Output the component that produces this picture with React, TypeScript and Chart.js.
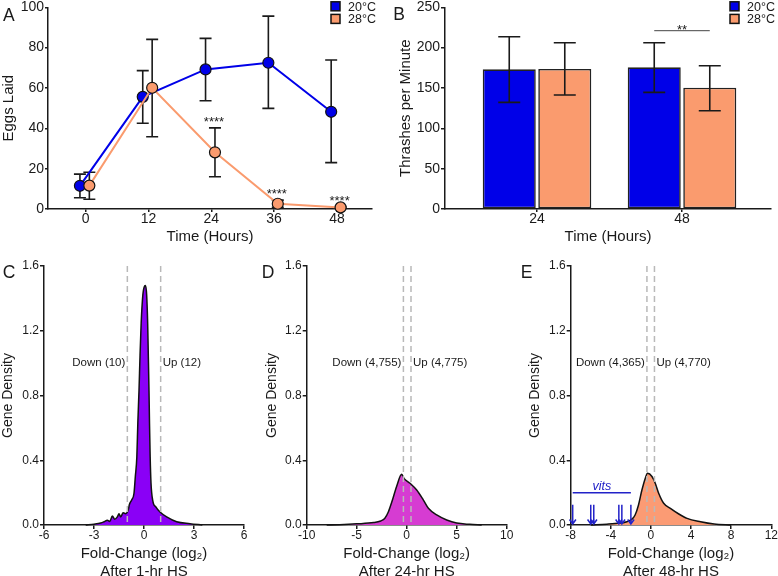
import React, { useEffect, useRef } from 'react';
import { Chart, registerables } from 'chart.js';

Chart.register(...registerables);

const FONT = '"Liberation Sans", Arial, Helvetica, sans-serif';
const INK = '#1a1a1a';

// ---------------- data ----------------
const seriesLabels = ['20°C', '28°C'];
const seriesColors = ['#0000E8', '#FA9B6E'];

// Panel A: eggs laid
const timeHours = [0, 12, 24, 36, 48];
const eggs20Mean = [11.5, 55.6, 69.2, 72.5, 48.2];
const eggs20Low = [5.6, 42.5, 53.7, 49.9, 23.0];
const eggs20High = [17.3, 68.6, 84.6, 95.6, 73.9];
const eggs28Mean = [11.6, 60.1, 28.1, 2.6, 0.8];
const eggs28Low = [4.8, 35.8, 16.0, 0.9, 0.4];
const eggs28High = [18.2, 84.1, 40.2, 4.4, 1.2];
const eggsSignif = ['', '', '****', '****', '****'];
const eggsTicks = [0, 12, 24, 36, 48];
const eggsYTicks = [0, 20, 40, 60, 80, 100];

// Panel B: thrashes
const thrashHours = [24, 48];
const thrash20Mean = [173.1, 175.6];
const thrash20Low = [132.2, 144.6];
const thrash20High = [213.5, 206.0];
const thrash28Mean = [173.5, 150.3];
const thrash28Low = [141.3, 121.8];
const thrash28High = [206.0, 177.6];
const thrashYTicks = [0, 50, 100, 150, 200, 250];
const thrashSignifValue = 221;
const thrashSignifLabel = '**';
const thrashSignifIndex = 1;

// Panels C-E: density of fold changes
const densityTicks = [0, 0.4, 0.8, 1.2, 1.6];

const fc1hX = [-3.5, -3.0, -2.6, -2.4, -2.2, -2.05, -1.9, -1.75, -1.6, -1.5, -1.4, -1.25, -1.1, -0.94, -0.88, -0.74, -0.6, -0.52, -0.43, -0.37, -0.3, -0.24, -0.17, -0.07, 0.03, 0.09, 0.16, 0.22, 0.26, 0.3, 0.33, 0.37, 0.42, 0.52, 0.72, 0.96, 1.36, 1.96, 2.76, 3.5];
const fc1hY = [0, 0.005, 0.012, 0.02, 0.03, 0.022, 0.055, 0.035, 0.05, 0.07, 0.05, 0.075, 0.07, 0.095, 0.125, 0.155, 0.196, 0.3, 0.42, 0.63, 0.83, 1.04, 1.246, 1.42, 1.475, 1.48, 1.42, 1.246, 1.04, 0.83, 0.63, 0.42, 0.26, 0.154, 0.11, 0.08, 0.05, 0.02, 0.008, 0];
const thr1h = [-1, 1];
const counts1h = ['Down (10)', 'Up (12)'];
const ticks1h = [-6, -3, 0, 3, 6];

const fc24hX = [-8, -6.7, -5, -3.3, -2.6, -2.2, -1.84, -1.5, -1.0, -0.5, -0.27, 0.33, 1.0, 1.67, 2.17, 3.0, 4.0, 5.0, 6.3, 7.5];
const fc24hY = [0, 0.002, 0.007, 0.015, 0.025, 0.04, 0.08, 0.14, 0.24, 0.313, 0.288, 0.258, 0.216, 0.154, 0.103, 0.062, 0.031, 0.012, 0.004, 0];
const thr24h = [-0.33, 0.43];
const counts24h = ['Down (4,755)', 'Up (4,775)'];
const ticks24h = [-10, -5, 0, 5, 10];

const fc48hX = [-6, -4.4, -3.1, -2.4, -1.9, -1.58, -1.24, -0.9, -0.57, -0.34, 0.1, 0.43, 0.77, 1.27, 1.94, 2.78, 3.6, 4.95, 6.3, 8];
const fc48hY = [0, 0.005, 0.012, 0.02, 0.036, 0.062, 0.124, 0.216, 0.288, 0.319, 0.3, 0.258, 0.196, 0.134, 0.103, 0.068, 0.041, 0.02, 0.006, 0];
const thr48h = [-0.4, 0.35];
const counts48h = ['Down (4,365)', 'Up (4,770)'];
const ticks48h = [-8, -4, 0, 4, 8, 12];

const countsLevel = 1.0;
const vitsFC = [-7.8, -6.0, -5.7, -3.2, -2.9, -2.0];
const vitsLevel = 0.2;
const vitsArrowTop = 0.125;
const vitsLabel = 'vits';

// ---------------- layout ----------------
type Rect = { left: number; top: number; width: number; height: number };
type Area = { left: number; top: number; right: number; bottom: number };

function pads(c: Rect, a: Area) {
  return {
    top: a.top - c.top,
    right: c.left + c.width - a.right,
    yWidth: a.left - c.left,
    xHeight: c.top + c.height - a.bottom,
  };
}

function makeY(o: any) {
  const s: any = {
    type: 'linear',
    min: o.min,
    max: o.max,
    afterBuildTicks: (sc: any) => {
      sc.ticks = o.ticks.map((v: number) => ({ value: v }));
    },
    afterFit: (sc: any) => {
      sc.width = o.width;
      sc.paddingTop = 0;
      sc.paddingBottom = 0;
      sc.paddingLeft = 0;
      sc.paddingRight = 0;
    },
    border: { display: true, color: INK, width: 1.5 },
    grid: { display: true, drawOnChartArea: false, drawTicks: true, tickLength: o.tickLength ?? 4, color: INK, lineWidth: 1.5 },
    ticks: { color: INK, autoSkip: false, font: { size: o.tickSize, family: FONT, lineHeight: 1 }, padding: 1 },
    title: { display: true, text: o.title, color: INK, font: { size: o.titleSize, family: FONT, lineHeight: 1.2 }, padding: { top: o.titlePad, bottom: 0 } },
  };
  if (o.fmt) s.ticks.callback = o.fmt;
  return s;
}

function makeX(o: any) {
  return {
    type: 'linear',
    min: o.min,
    max: o.max,
    offset: false,
    afterBuildTicks: (sc: any) => {
      sc.ticks = o.ticks.map((v: number) => ({ value: v }));
    },
    afterFit: (sc: any) => {
      sc.height = o.height;
      sc.paddingTop = 0;
      sc.paddingBottom = 0;
      sc.paddingLeft = 0;
      sc.paddingRight = 0;
    },
    border: { display: true, color: INK, width: 1.5 },
    grid: { display: true, offset: false, drawOnChartArea: false, drawTicks: true, tickLength: o.tickLength ?? 4, color: INK, lineWidth: 1.5 },
    ticks: { color: INK, autoSkip: false, maxRotation: 0, font: { size: o.tickSize, family: FONT, lineHeight: 1 }, padding: o.tickPad ?? 1 },
    title: { display: true, text: o.title, color: INK, font: { size: o.titleSize, family: FONT, lineHeight: 1.2 }, padding: { top: 0, bottom: o.titlePad } },
  };
}

function letterPlugin(letter: string, x: number, y: number) {
  return {
    id: 'panelLetter' + letter,
    afterDraw(chart: any) {
      const ctx = chart.ctx;
      ctx.save();
      ctx.fillStyle = INK;
      ctx.font = `17.5px ${FONT}`;
      ctx.textAlign = 'left';
      ctx.textBaseline = 'alphabetic';
      ctx.fillText(letter, x, y);
      ctx.restore();
    },
  };
}

function legendPlugin(x0: number) {
  return {
    id: 'boxLegend',
    afterDraw(chart: any) {
      const ctx = chart.ctx;
      ctx.save();
      seriesLabels.forEach((lab, i) => {
        const top = 1.8 + i * 12.6;
        ctx.fillStyle = seriesColors[i];
        ctx.fillRect(x0, top, 9, 9);
        ctx.strokeStyle = '#111';
        ctx.lineWidth = 1.5;
        ctx.strokeRect(x0, top, 9, 9);
        ctx.fillStyle = INK;
        ctx.font = `12.5px ${FONT}`;
        ctx.textAlign = 'left';
        ctx.textBaseline = 'alphabetic';
        ctx.fillText(lab, x0 + 17, top + 9);
      });
      ctx.restore();
    },
  };
}

function errorBarPlugin(lows: number[][], highs: number[][], capHalf: number, when: 'before' | 'after') {
  const draw = (chart: any) => {
    const ctx = chart.ctx;
    const ys = chart.scales.y;
    ctx.save();
    ctx.strokeStyle = INK;
    ctx.lineWidth = 1.6;
    lows.forEach((lowArr, di) => {
      const meta = chart.getDatasetMeta(di);
      lowArr.forEach((lo, j) => {
        const el = meta.data[j];
        if (!el) return;
        const x = el.x;
        const y1 = ys.getPixelForValue(lo);
        const y2 = ys.getPixelForValue(highs[di][j]);
        ctx.beginPath();
        ctx.moveTo(x, y1);
        ctx.lineTo(x, y2);
        ctx.moveTo(x - capHalf, y1);
        ctx.lineTo(x + capHalf, y1);
        ctx.moveTo(x - capHalf, y2);
        ctx.lineTo(x + capHalf, y2);
        ctx.stroke();
      });
    });
    ctx.restore();
  };
  return when === 'before'
    ? { id: 'errBefore', beforeDatasetsDraw: draw }
    : { id: 'errAfter', afterDatasetsDraw: draw };
}

// ---------------- panel configs ----------------
const DODGE = [-1.1, 0.7];

function configA(c: Rect, a: Area) {
  const p = pads(c, a);
  const means = [eggs20Mean, eggs28Mean];
  return {
    type: 'line',
    data: {
      datasets: means.map((m, di) => ({
        label: seriesLabels[di],
        data: timeHours.map((t, i) => ({ x: t + DODGE[di], y: m[i] })),
        borderColor: seriesColors[di],
        backgroundColor: seriesColors[di],
        pointBackgroundColor: seriesColors[di],
        pointBorderColor: '#111',
        pointBorderWidth: 1.2,
        pointRadius: 5.5,
        borderWidth: 2,
        tension: 0,
        clip: false,
        order: di === 0 ? 1 : 0,
      })),
    },
    options: {
      responsive: false,
      animation: false,
      events: [],
      layout: { padding: { top: p.top, right: p.right, left: 0, bottom: 0 } },
      plugins: { legend: { display: false }, tooltip: { enabled: false } },
      scales: {
        x: makeX({ min: -7.2, max: 54.7, ticks: eggsTicks, height: p.xHeight, tickSize: 14, titleSize: 15, title: 'Time (Hours)', titlePad: 14.5, tickLength: 3, tickPad: 0 }),
        y: makeY({ min: 0, max: 100, ticks: eggsYTicks, width: p.yWidth, tickSize: 14, titleSize: 15, title: 'Eggs Laid', titlePad: 0, tickLength: 3 }),
      },
    },
    plugins: [
      errorBarPlugin([eggs20Low, eggs28Low], [eggs20High, eggs28High], 6, 'before'),
      {
        id: 'stars',
        afterDatasetsDraw(chart: any) {
          const ctx = chart.ctx;
          const meta = chart.getDatasetMeta(1);
          ctx.save();
          ctx.fillStyle = INK;
          ctx.font = `13px ${FONT}`;
          ctx.textAlign = 'center';
          ctx.textBaseline = 'alphabetic';
          eggsSignif.forEach((s, j) => {
            if (!s) return;
            const x = meta.data[j].x;
            const y = chart.scales.y.getPixelForValue(eggs28High[j]);
            ctx.fillText(s, x - 1, y - 2);
          });
          ctx.restore();
        },
      },
      legendPlugin(331),
      letterPlugin('A', 3, 20.7),
    ],
  };
}

function configB(c: Rect, a: Area) {
  const p = pads(c, a);
  const means = [thrash20Mean, thrash28Mean];
  return {
    type: 'bar',
    data: {
      datasets: means.map((m, di) => ({
        label: seriesLabels[di],
        data: thrashHours.map((t, i) => ({ x: t, y: m[i] })),
        backgroundColor: seriesColors[di],
        borderColor: '#222',
        borderWidth: 1.6,
        borderSkipped: false,
        categoryPercentage: 0.766,
        barPercentage: 0.955,
      })),
    },
    options: {
      responsive: false,
      animation: false,
      events: [],
      layout: { padding: { top: p.top, right: p.right, left: 0, bottom: 0 } },
      plugins: { legend: { display: false }, tooltip: { enabled: false } },
      scales: {
        x: makeX({ min: 8.77, max: 62.73, ticks: thrashHours, height: p.xHeight, tickSize: 14, titleSize: 15, title: 'Time (Hours)', titlePad: 14.5, tickLength: 3, tickPad: 0 }),
        y: makeY({ min: 0, max: 250, ticks: thrashYTicks, width: p.yWidth, tickSize: 14, titleSize: 15, title: 'Thrashes per Minute', titlePad: 6.5, tickLength: 4 }),
      },
    },
    plugins: [
      errorBarPlugin([thrash20Low, thrash28Low], [thrash20High, thrash28High], 11, 'after'),
      {
        id: 'sig',
        afterDatasetsDraw(chart: any) {
          const ctx = chart.ctx;
          const x1 = chart.getDatasetMeta(0).data[thrashSignifIndex].x;
          const x2 = chart.getDatasetMeta(1).data[thrashSignifIndex].x;
          const y = chart.scales.y.getPixelForValue(thrashSignifValue);
          ctx.save();
          ctx.strokeStyle = '#444';
          ctx.lineWidth = 1;
          ctx.beginPath();
          ctx.moveTo(x1, y);
          ctx.lineTo(x2, y);
          ctx.stroke();
          ctx.fillStyle = INK;
          ctx.font = `13px ${FONT}`;
          ctx.textAlign = 'center';
          ctx.textBaseline = 'alphabetic';
          ctx.fillText(thrashSignifLabel, (x1 + x2) / 2, y + 3);
          ctx.restore();
        },
      },
      legendPlugin(340),
      letterPlugin('B', 3.3, 20),
    ],
  };
}

function configDensity(o: any) {
  const p = pads(o.c, o.a);
  const plugins: any[] = [
    {
      id: 'thresholds',
      afterDatasetsDraw(chart: any) {
        const ctx = chart.ctx;
        const xs = chart.scales.x;
        const ys = chart.scales.y;
        const area = chart.chartArea;
        ctx.save();
        ctx.strokeStyle = '#b9b9b9';
        ctx.lineWidth = 1.5;
        ctx.setLineDash([6, 4]);
        o.thr.forEach((t: number) => {
          const x = xs.getPixelForValue(t);
          ctx.beginPath();
          ctx.moveTo(x, area.top);
          ctx.lineTo(x, area.bottom);
          ctx.stroke();
        });
        ctx.setLineDash([]);
        ctx.fillStyle = INK;
        ctx.font = `11.5px ${FONT}`;
        ctx.textBaseline = 'middle';
        const yy = ys.getPixelForValue(countsLevel);
        ctx.textAlign = 'right';
        ctx.fillText(o.counts[0], xs.getPixelForValue(o.thr[0]) - 2, yy);
        ctx.textAlign = 'left';
        ctx.fillText(o.counts[1], xs.getPixelForValue(o.thr[1]) + 2, yy);
        ctx.restore();
      },
    },
    letterPlugin(o.letter, o.letterX, 18),
  ];
  if (o.vits) {
    plugins.push({
      id: 'vits',
      afterDatasetsDraw(chart: any) {
        const ctx = chart.ctx;
        const xs = chart.scales.x;
        const ys = chart.scales.y;
        const lo = Math.min(...vitsFC);
        const hi = Math.max(...vitsFC);
        const yl = ys.getPixelForValue(vitsLevel);
        ctx.save();
        ctx.strokeStyle = '#2222C8';
        ctx.fillStyle = '#2222C8';
        ctx.lineWidth = 1.5;
        ctx.beginPath();
        ctx.moveTo(xs.getPixelForValue(lo), yl);
        ctx.lineTo(xs.getPixelForValue(hi), yl);
        ctx.stroke();
        ctx.font = `italic 12.5px ${FONT}`;
        ctx.textAlign = 'center';
        ctx.textBaseline = 'alphabetic';
        ctx.fillText(vitsLabel, xs.getPixelForValue((lo + hi) / 2), yl - 2.5);
        const top = ys.getPixelForValue(vitsArrowTop);
        const tip = ys.getPixelForValue(0) - 1;
        vitsFC.forEach((v) => {
          const x = xs.getPixelForValue(v);
          ctx.beginPath();
          ctx.moveTo(x, top);
          ctx.lineTo(x, tip);
          ctx.moveTo(x - 3.2, tip - 4.5);
          ctx.lineTo(x, tip);
          ctx.lineTo(x + 3.2, tip - 4.5);
          ctx.stroke();
        });
        ctx.restore();
      },
    });
  }
  return {
    type: 'line',
    data: {
      datasets: [
        {
          label: o.sub,
          data: o.xs.map((x: number, i: number) => ({ x, y: o.ys[i] })),
          fill: 'origin',
          backgroundColor: o.color,
          borderColor: '#111',
          borderWidth: 1.5,
          pointRadius: 0,
          cubicInterpolationMode: 'monotone',
          clip: false,
        },
      ],
    },
    options: {
      responsive: false,
      animation: false,
      events: [],
      layout: { padding: { top: p.top, right: p.right, left: 0, bottom: 0 } },
      plugins: { legend: { display: false }, tooltip: { enabled: false } },
      scales: {
        x: makeX({ min: o.xmin, max: o.xmax, ticks: o.ticks, height: p.xHeight, tickSize: 12, titleSize: 15, title: ['Fold-Change (log\u2082)', o.sub], titlePad: -4.8, tickLength: 4, tickPad: 1 }),
        y: makeY({ min: 0, max: 1.6, ticks: densityTicks, width: p.yWidth, tickSize: 12, titleSize: 14, title: 'Gene Density', titlePad: o.yTitlePad, tickLength: 4, fmt: (v: any) => Number(v).toFixed(1) }),
      },
    },
    plugins,
  };
}

// ---------------- components ----------------
function Panel({ rect, make }: { rect: Rect; make: () => any }) {
  const ref = useRef<HTMLCanvasElement | null>(null);
  useEffect(() => {
    if (!ref.current) return;
    const chart = new Chart(ref.current, make());
    return () => chart.destroy();
  }, []);
  return (
    <canvas
      ref={ref}
      width={rect.width}
      height={rect.height}
      style={{ position: 'absolute', left: rect.left, top: rect.top, width: rect.width, height: rect.height }}
    />
  );
}

const rectA: Rect = { left: 0, top: 0, width: 390, height: 260 };
const areaA: Area = { left: 48, top: 7.3, right: 372, bottom: 209 };
const rectB: Rect = { left: 390, top: 0, width: 388, height: 260 };
const areaB: Area = { left: 445, top: 7.3, right: 771, bottom: 209 };
const rectC: Rect = { left: 0, top: 260, width: 260, height: 316 };
const areaC: Area = { left: 44, top: 266, right: 244, bottom: 525 };
const rectD: Rect = { left: 260, top: 260, width: 258, height: 316 };
const areaD: Area = { left: 306.7, top: 266, right: 506.7, bottom: 525 };
const rectE: Rect = { left: 518, top: 260, width: 260, height: 316 };
const areaE: Area = { left: 570.7, top: 266, right: 771.3, bottom: 525 };

export default function App() {
  return (
    <div style={{ position: 'absolute', left: 0, top: 0, width: 778, height: 576, overflow: 'hidden', background: '#fff' }}>
      <Panel rect={rectA} make={() => configA(rectA, areaA)} />
      <Panel rect={rectB} make={() => configB(rectB, areaB)} />
      <Panel
        rect={rectC}
        make={() =>
          configDensity({ c: rectC, a: areaC, xs: fc1hX, ys: fc1hY, thr: thr1h, counts: counts1h, ticks: ticks1h, xmin: -6, xmax: 6, color: '#8A00F6', sub: 'After 1-hr HS', letter: 'C', letterX: 2.7, yTitlePad: 0 })
        }
      />
      <Panel
        rect={rectD}
        make={() =>
          configDensity({ c: rectD, a: areaD, xs: fc24hX, ys: fc24hY, thr: thr24h, counts: counts24h, ticks: ticks24h, xmin: -10, xmax: 10, color: '#D63CD2', sub: 'After 24-hr HS', letter: 'D', letterX: 1.7, yTitlePad: 3.4 })
        }
      />
      <Panel
        rect={rectE}
        make={() =>
          configDensity({ c: rectE, a: areaE, xs: fc48hX, ys: fc48hY, thr: thr48h, counts: counts48h, ticks: ticks48h, xmin: -8, xmax: 12, color: '#FB9B74', sub: 'After 48-hr HS', letter: 'E', letterX: 2.7, yTitlePad: 8.4, vits: true })
        }
      />
    </div>
  );
}
